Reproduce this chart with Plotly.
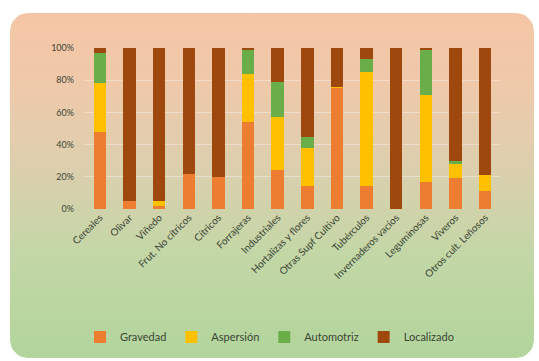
import plotly.graph_objects as go
import math

categories = ["Cereales", "Olivar", "Viñedo", "Frut. No cítricos", "Cítricos", "Forrajeras",
              "Industriales", "Hortalizas y flores", "Otras Supf Cultivo", "Tubérculos",
              "Invernaderos vacíos", "Leguminosas", "Viveros", "Otros cult. Leñosos"]
gravedad = [48, 5, 2, 22, 20, 54, 24, 14, 75, 14, 0, 17, 19, 11]
aspersion = [30, 0, 3, 0, 0, 30, 33, 24, 1, 71, 0, 54, 9, 10]
automotriz = [19, 0, 0, 0, 0, 15, 22, 7, 0, 8, 0, 28, 2, 0]
localizado = [3, 95, 95, 78, 80, 1, 21, 55, 24, 7, 100, 1, 70, 79]
series_names = ["Gravedad", "Aspersión", "Automotriz", "Localizado"]
series_colors = ["#ED7D31", "#FFC000", "#6AAE4A", "#9E480E"]
y_ticks = [0, 20, 40, 60, 80, 100]
y_ticklabels = ["0%", "20%", "40%", "60%", "80%", "100%"]

W, H = 539, 361
fig = go.Figure()

# background card (rounded rectangle with vertical gradient) on a full-paper axis pair
x0, x1, yt, yb, r = 10, 534, 13, 358, 18
px, py = [], []
def arc(cx, cy, a0, a1):
    for i in range(9):
        a = math.radians(a0 + (a1 - a0) * i / 8)
        px.append(cx + r * math.cos(a))
        py.append(H - (cy - r * math.sin(a)))
arc(x1 - r, yt + r, 0, 90)
arc(x0 + r, yt + r, 90, 180)
arc(x0 + r, yb - r, 180, 270)
arc(x1 - r, yb - r, 270, 360)
px.append(px[0]); py.append(py[0])
fig.add_trace(go.Scatter(
    x=px, y=py, mode="lines", fill="toself", line=dict(width=0),
    fillgradient=dict(type="vertical",
                      colorscale=[[0, "#b2d59c"], [0.3, "#c3d7a6"], [0.55, "#dccfae"],
                                  [0.8, "#efc9aa"], [1, "#f5c6a6"]]),
    hoverinfo="skip", showlegend=False, xaxis="x", yaxis="y"))

values = [gravedad, aspersion, automotriz, localizado]
for name, vals, col in zip(series_names, values, series_colors):
    fig.add_trace(go.Bar(x=categories, y=vals, name=name, marker=dict(color=col, line=dict(width=0)),
                         width=0.42, xaxis="x2", yaxis="y2"))

fig.update_layout(
    width=W, height=H, margin=dict(l=0, r=0, t=0, b=0, autoexpand=False),
    paper_bgcolor="white", plot_bgcolor="rgba(0,0,0,0)",
    barmode="stack", bargap=0.58,
    font=dict(family="Lato, Open Sans, sans-serif", color="#3f4a3c", size=10),
    xaxis=dict(domain=[0, 1], range=[0, W], visible=False, fixedrange=True, automargin=False),
    yaxis=dict(domain=[0, 1], range=[0, H], visible=False, fixedrange=True, automargin=False),
    xaxis2=dict(domain=[85 / W, 500 / W], anchor="y2", tickangle=-45, automargin=False,
                tickfont=dict(size=10, color="#3a4536"), showgrid=False,
                showline=False, ticks=""),
    yaxis2=dict(domain=[(H - 209) / H, (H - 48) / H], anchor="x2", range=[0, 100], automargin=False,
                tickvals=y_ticks, ticktext=y_ticklabels, tickfont=dict(size=9, color="#3a4536"),
                showgrid=True, gridcolor="rgba(255,255,255,0.35)", gridwidth=1,
                zeroline=False, showline=False, ticks="", ticklabelstandoff=10),
    legend=dict(orientation="h", x=0.5, xanchor="center", y=(H - 337) / H, yanchor="middle",
                font=dict(size=11, color="#3a4536"), bgcolor="rgba(0,0,0,0)",
                itemwidth=30, traceorder="normal"),
    hovermode=False,
)

fig.write_html("out.html", config={"displayModeBar": False, "staticPlot": True},
               post_script="document.body.style.margin='0';")
